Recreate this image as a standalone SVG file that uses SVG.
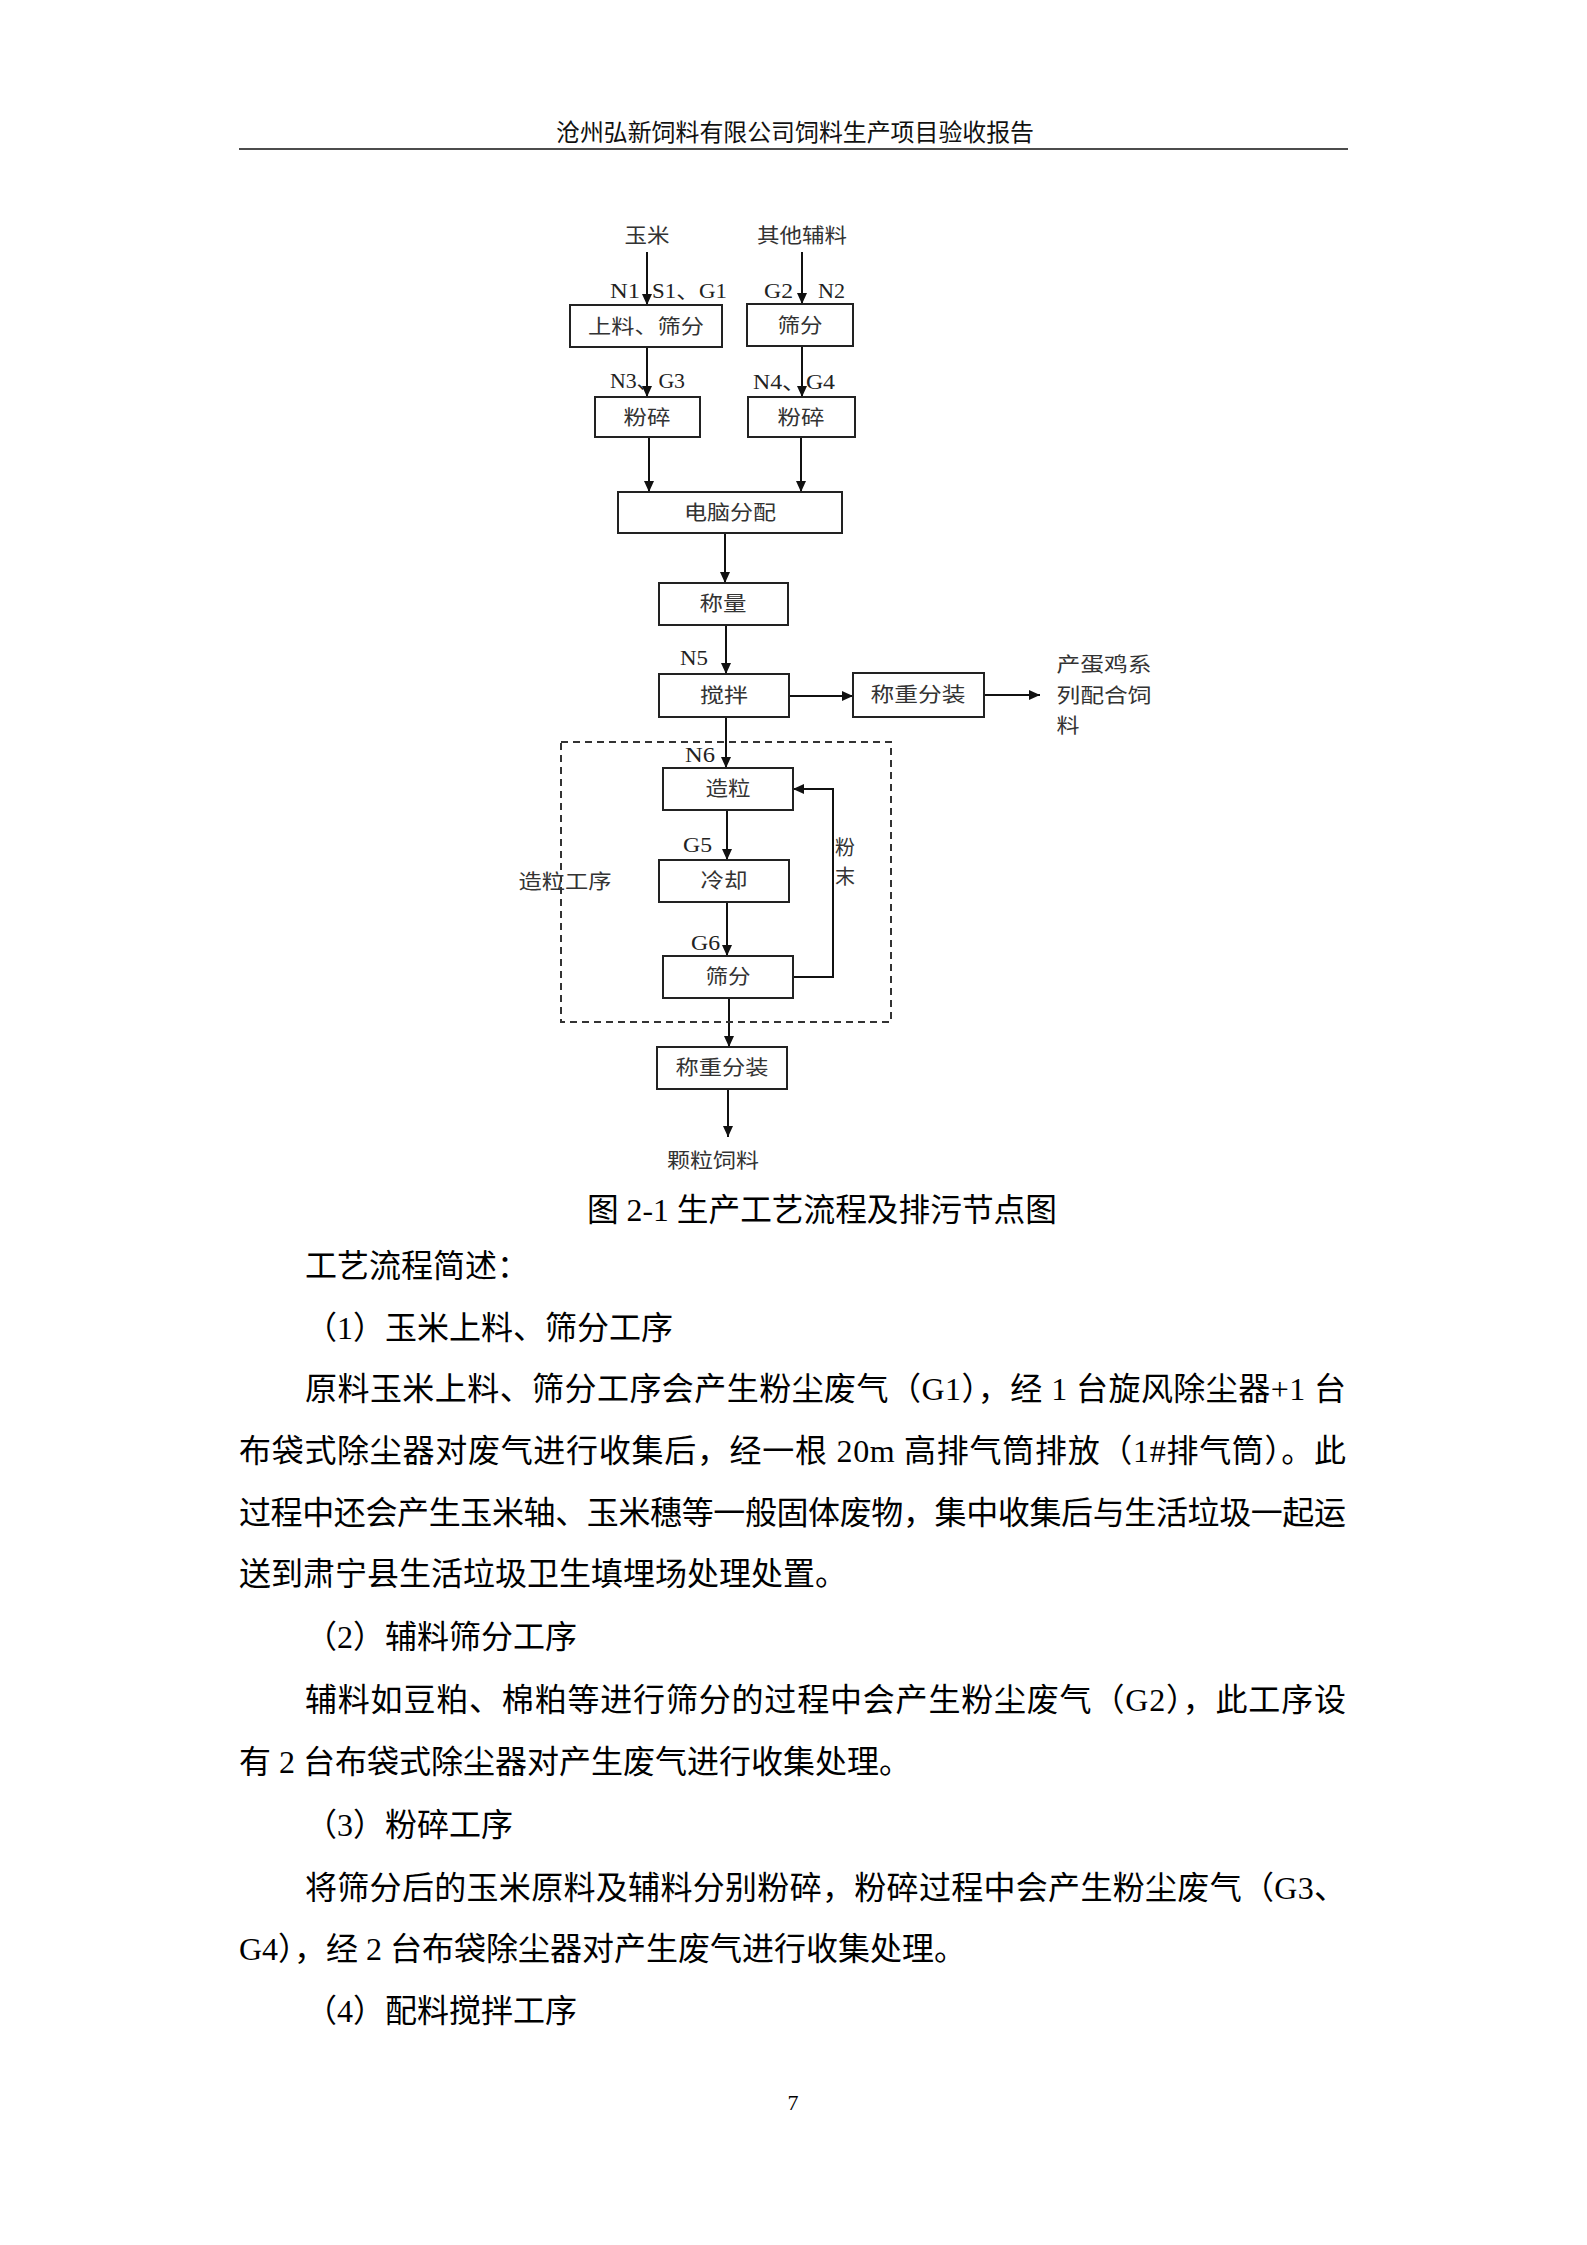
<svg xmlns="http://www.w3.org/2000/svg" width="1587" height="2245" viewBox="0 0 1587 2245">
<defs>
<marker id="ah" markerUnits="userSpaceOnUse" markerWidth="12" markerHeight="10" refX="11" refY="5" orient="auto">
<path d="M0,0 L11,5 L0,10 z" fill="#111"/>
</marker>
<style>
.box{fill:#fff;stroke:#222;stroke-width:2}
.cn{font-family:"Liberation Serif","Noto Sans CJK SC",serif;font-size:20px;fill:#333;text-anchor:middle}
.lb{font-family:"Liberation Serif","Noto Sans CJK SC",serif;font-size:21px;fill:#222}
.ln{fill:none;stroke:#111;stroke-width:2}
.body{font-family:"Liberation Serif","Noto Sans CJK SC",serif;font-size:32px;fill:#000}
</style>
</defs>
<rect width="1587" height="2245" fill="#fff"/>
<g id="header">
<text x="795" y="141" font-family="Liberation Serif, Noto Sans CJK SC, serif" font-size="24" text-anchor="middle" fill="#111" textLength="478" lengthAdjust="spacingAndGlyphs">沧州弘新饲料有限公司饲料生产项目验收报告</text>
<line x1="239" y1="149" x2="1348" y2="149" stroke="#111" stroke-width="1.5"/>
</g>
<g id="connectors">
<line class="ln" x1="647" y1="252" x2="647" y2="305" marker-end="url(#ah)"/>
<line class="ln" x1="802" y1="252" x2="802" y2="304" marker-end="url(#ah)"/>
<line class="ln" x1="647" y1="347" x2="647" y2="397" marker-end="url(#ah)"/>
<line class="ln" x1="802" y1="346" x2="802" y2="397" marker-end="url(#ah)"/>
<line class="ln" x1="649" y1="437" x2="649" y2="492" marker-end="url(#ah)"/>
<line class="ln" x1="801" y1="437" x2="801" y2="492" marker-end="url(#ah)"/>
<line class="ln" x1="725" y1="533" x2="725" y2="583" marker-end="url(#ah)"/>
<line class="ln" x1="726" y1="625" x2="726" y2="674" marker-end="url(#ah)"/>
<line class="ln" x1="789" y1="696" x2="853" y2="696" marker-end="url(#ah)"/>
<line class="ln" x1="984" y1="695" x2="1040" y2="695" marker-end="url(#ah)"/>
<line class="ln" x1="726" y1="717" x2="726" y2="768" marker-end="url(#ah)"/>
<line class="ln" x1="727" y1="810" x2="727" y2="860" marker-end="url(#ah)"/>
<line class="ln" x1="727" y1="902" x2="727" y2="956" marker-end="url(#ah)"/>
<line class="ln" x1="729" y1="998" x2="729" y2="1047" marker-end="url(#ah)"/>
<line class="ln" x1="728" y1="1089" x2="728" y2="1137" marker-end="url(#ah)"/>
<polyline class="ln" points="793,977 833,977 833,789 793,789" marker-end="url(#ah)"/>
</g>
<g id="group-granulation">
<rect x="561" y="742" width="330" height="280" fill="none" stroke="#333" stroke-width="2" stroke-dasharray="7,5"/>
<text class="cn" x="565" y="889" textLength="93" lengthAdjust="spacingAndGlyphs">造粒工序</text>
</g>
<g id="n-corn"><text class="cn" x="647" y="243" textLength="45" lengthAdjust="spacingAndGlyphs">玉米</text></g>
<g id="n-other"><text class="cn" x="802" y="243" textLength="90" lengthAdjust="spacingAndGlyphs">其他辅料</text></g>
<g id="n-feed-screen"><rect class="box" x="570" y="305" width="152" height="42"/><text class="cn" x="646" y="334" textLength="116" lengthAdjust="spacingAndGlyphs">上料、筛分</text></g>
<g id="n-screen2"><rect class="box" x="747" y="304" width="106" height="42"/><text class="cn" x="800" y="333" textLength="45" lengthAdjust="spacingAndGlyphs">筛分</text></g>
<g id="n-crush1"><rect class="box" x="595" y="397" width="105" height="40"/><text class="cn" x="647" y="425" textLength="47" lengthAdjust="spacingAndGlyphs">粉碎</text></g>
<g id="n-crush2"><rect class="box" x="748" y="397" width="107" height="40"/><text class="cn" x="801" y="425" textLength="47" lengthAdjust="spacingAndGlyphs">粉碎</text></g>
<g id="n-computer"><rect class="box" x="618" y="492" width="224" height="41"/><text class="cn" x="730" y="520" textLength="92" lengthAdjust="spacingAndGlyphs">电脑分配</text></g>
<g id="n-weigh"><rect class="box" x="659" y="583" width="129" height="42"/><text class="cn" x="723" y="611" textLength="47" lengthAdjust="spacingAndGlyphs">称量</text></g>
<g id="n-mix"><rect class="box" x="659" y="674" width="130" height="43"/><text class="cn" x="724" y="703" textLength="48" lengthAdjust="spacingAndGlyphs">搅拌</text></g>
<g id="n-pack1"><rect class="box" x="853" y="673" width="131" height="44"/><text class="cn" x="918" y="702" textLength="95" lengthAdjust="spacingAndGlyphs">称重分装</text></g>
<g id="n-product1">
<text class="cn" x="1104" y="672" textLength="95" lengthAdjust="spacingAndGlyphs">产蛋鸡系</text>
<text class="cn" x="1104" y="703" textLength="95" lengthAdjust="spacingAndGlyphs">列配合饲</text>
<text class="cn" x="1068" y="733" textLength="23" lengthAdjust="spacingAndGlyphs">料</text>
</g>
<g id="n-pellet"><rect class="box" x="663" y="768" width="130" height="42"/><text class="cn" x="728" y="796" textLength="45" lengthAdjust="spacingAndGlyphs">造粒</text></g>
<g id="n-cool"><rect class="box" x="659" y="860" width="130" height="42"/><text class="cn" x="724" y="888" textLength="47" lengthAdjust="spacingAndGlyphs">冷却</text></g>
<g id="n-screen3"><rect class="box" x="663" y="956" width="130" height="42"/><text class="cn" x="728" y="984" textLength="45" lengthAdjust="spacingAndGlyphs">筛分</text></g>
<g id="n-powder">
<text class="cn" x="845" y="855">粉</text>
<text class="cn" x="845" y="884">末</text>
</g>
<g id="n-pack2"><rect class="box" x="657" y="1047" width="130" height="42"/><text class="cn" x="722" y="1075" textLength="93" lengthAdjust="spacingAndGlyphs">称重分装</text></g>
<g id="n-product2"><text class="cn" x="713" y="1168" textLength="92" lengthAdjust="spacingAndGlyphs">颗粒饲料</text></g>
<g id="labels">
<text class="lb" x="610" y="298" textLength="30" lengthAdjust="spacingAndGlyphs">N1</text>
<text class="lb" x="652" y="298" textLength="75" lengthAdjust="spacingAndGlyphs">S1、G1</text>
<text class="lb" x="764" y="298" textLength="29" lengthAdjust="spacingAndGlyphs">G2</text>
<text class="lb" x="818" y="298" textLength="27" lengthAdjust="spacingAndGlyphs">N2</text>
<text class="lb" x="610" y="388" textLength="75" lengthAdjust="spacingAndGlyphs">N3、G3</text>
<text class="lb" x="753" y="389" textLength="82" lengthAdjust="spacingAndGlyphs">N4、G4</text>
<text class="lb" x="680" y="665" textLength="28" lengthAdjust="spacingAndGlyphs">N5</text>
<text class="lb" x="685" y="762" textLength="30" lengthAdjust="spacingAndGlyphs">N6</text>
<text class="lb" x="683" y="852" textLength="29" lengthAdjust="spacingAndGlyphs">G5</text>
<text class="lb" x="691" y="950" textLength="29" lengthAdjust="spacingAndGlyphs">G6</text>
</g>
<g id="body">
<text class="body" x="587" y="1221" textLength="470" lengthAdjust="spacingAndGlyphs">图 2-1 生产工艺流程及排污节点图</text>
<text class="body" x="305" y="1277">工艺流程简述：</text>
<text class="body" x="305" y="1339">（1）玉米上料、筛分工序</text>
<text class="body" x="305" y="1400" textLength="1041" lengthAdjust="spacing">原料玉米上料、筛分工序会产生粉尘废气（G1），经 1 台旋风除尘器+1 台</text>
<text class="body" x="239" y="1462" textLength="1107" lengthAdjust="spacing">布袋式除尘器对废气进行收集后，经一根 20m 高排气筒排放（1#排气筒）。此</text>
<text class="body" x="239" y="1524" textLength="1107" lengthAdjust="spacing">过程中还会产生玉米轴、玉米穗等一般固体废物，集中收集后与生活垃圾一起运</text>
<text class="body" x="239" y="1585">送到肃宁县生活垃圾卫生填埋场处理处置。</text>
<text class="body" x="305" y="1648">（2）辅料筛分工序</text>
<text class="body" x="305" y="1711" textLength="1041" lengthAdjust="spacing">辅料如豆粕、棉粕等进行筛分的过程中会产生粉尘废气（G2），此工序设</text>
<text class="body" x="239" y="1773">有 2 台布袋式除尘器对产生废气进行收集处理。</text>
<text class="body" x="305" y="1836">（3）粉碎工序</text>
<text class="body" x="305" y="1899" textLength="1041" lengthAdjust="spacing">将筛分后的玉米原料及辅料分别粉碎，粉碎过程中会产生粉尘废气（G3、</text>
<text class="body" x="239" y="1960">G4），经 2 台布袋除尘器对产生废气进行收集处理。</text>
<text class="body" x="305" y="2022">（4）配料搅拌工序</text>
<text x="793" y="2110" font-family="Liberation Serif, serif" font-size="22" text-anchor="middle" fill="#000">7</text>
</g>
</svg>
